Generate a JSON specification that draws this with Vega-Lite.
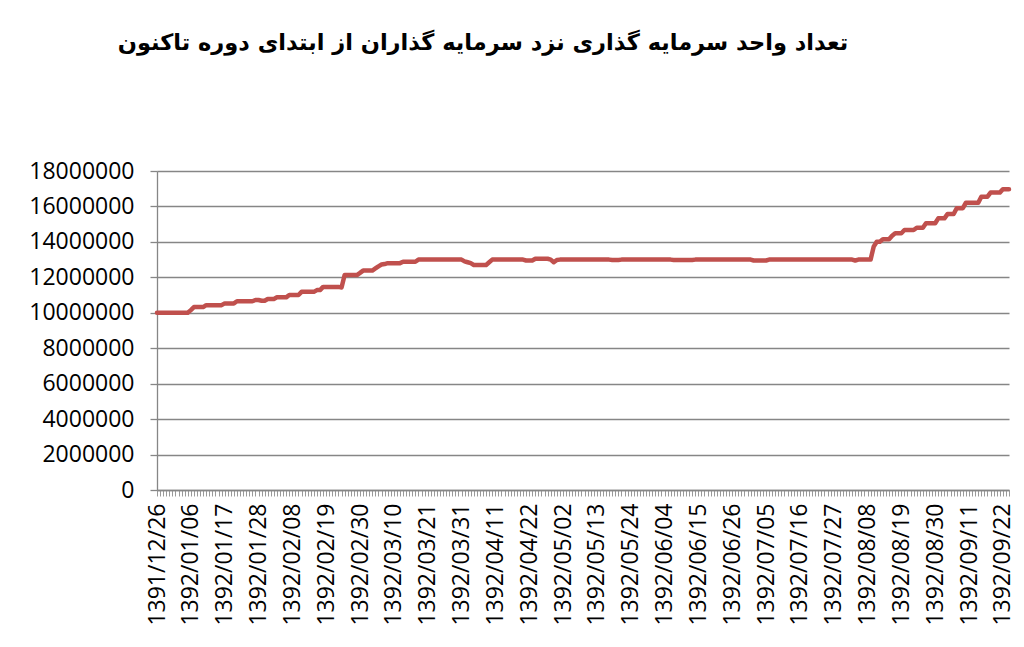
{
  "$schema": "https://vega.github.io/schema/vega-lite/v6.json",
  "autosize": {"type": "none"},
  "width": 852,
  "height": 319,
  "padding": {"left": 157, "top": 171, "right": 15, "bottom": 157},
  "background": "white",
  "config": {"view": {"stroke": null}},
  "title": {
    "text": "تعداد واحد سرمایه گذاری نزد سرمایه گذاران از ابتدای دوره تاکنون",
    "font": "DejaVu Sans",
    "fontWeight": "bold",
    "fontSize": 22.5,
    "color": "black",
    "anchor": "middle",
    "frame": "group",
    "dx": -100,
    "offset": 106
  },
  "data": {"values": [
    {"i":0,"v":10000000},{"i":1,"v":10000000},{"i":2,"v":10000000},{"i":3,"v":10000000},{"i":4,"v":10000000},{"i":5,"v":10000000},{"i":6,"v":10000000},{"i":7,"v":10000000},{"i":8,"v":10000000},{"i":9,"v":10000000},{"i":10,"v":10000000},
    {"i":11,"v":10150000},{"i":12,"v":10320000},{"i":13,"v":10320000},{"i":14,"v":10320000},{"i":15,"v":10320000},
    {"i":16,"v":10430000},{"i":17,"v":10430000},{"i":18,"v":10430000},{"i":19,"v":10430000},{"i":20,"v":10430000},{"i":21,"v":10430000},
    {"i":22,"v":10530000},{"i":23,"v":10530000},{"i":24,"v":10530000},{"i":25,"v":10530000},
    {"i":26,"v":10650000},{"i":27,"v":10650000},{"i":28,"v":10650000},{"i":29,"v":10650000},{"i":30,"v":10650000},{"i":31,"v":10650000},
    {"i":32,"v":10720000},{"i":33,"v":10720000},{"i":34,"v":10680000},{"i":35,"v":10680000},
    {"i":36,"v":10780000},{"i":37,"v":10780000},{"i":38,"v":10780000},
    {"i":39,"v":10870000},{"i":40,"v":10870000},{"i":41,"v":10870000},{"i":42,"v":10870000},
    {"i":43,"v":11000000},{"i":44,"v":11000000},{"i":45,"v":11000000},{"i":46,"v":11000000},
    {"i":47,"v":11180000},{"i":48,"v":11180000},{"i":49,"v":11180000},{"i":50,"v":11180000},{"i":51,"v":11180000},
    {"i":52,"v":11280000},{"i":53,"v":11280000},
    {"i":54,"v":11460000},{"i":55,"v":11460000},{"i":56,"v":11460000},{"i":57,"v":11460000},{"i":58,"v":11460000},{"i":59,"v":11460000},
    {"i":60,"v":11430000},
    {"i":61,"v":12130000},{"i":62,"v":12130000},{"i":63,"v":12130000},{"i":64,"v":12130000},{"i":65,"v":12130000},
    {"i":66,"v":12250000},{"i":67,"v":12380000},{"i":68,"v":12380000},{"i":69,"v":12380000},{"i":70,"v":12380000},
    {"i":71,"v":12500000},{"i":72,"v":12620000},{"i":73,"v":12720000},{"i":74,"v":12750000},
    {"i":75,"v":12800000},{"i":76,"v":12800000},{"i":77,"v":12800000},{"i":78,"v":12800000},{"i":79,"v":12800000},
    {"i":80,"v":12880000},{"i":81,"v":12880000},{"i":82,"v":12880000},{"i":83,"v":12880000},{"i":84,"v":12880000},
    {"i":85,"v":13000000},{"i":86,"v":13000000},{"i":87,"v":13000000},{"i":88,"v":13000000},{"i":89,"v":13000000},{"i":90,"v":13000000},{"i":91,"v":13000000},{"i":92,"v":13000000},{"i":93,"v":13000000},{"i":94,"v":13000000},{"i":95,"v":13000000},{"i":96,"v":13000000},{"i":97,"v":13000000},{"i":98,"v":13000000},{"i":99,"v":13000000},
    {"i":100,"v":12900000},{"i":101,"v":12850000},{"i":102,"v":12800000},
    {"i":103,"v":12700000},{"i":104,"v":12700000},{"i":105,"v":12700000},{"i":106,"v":12700000},{"i":107,"v":12700000},
    {"i":108,"v":12850000},
    {"i":109,"v":13000000},{"i":110,"v":13000000},{"i":111,"v":13000000},{"i":112,"v":13000000},{"i":113,"v":13000000},{"i":114,"v":13000000},{"i":115,"v":13000000},{"i":116,"v":13000000},{"i":117,"v":13000000},{"i":118,"v":13000000},{"i":119,"v":13000000},
    {"i":120,"v":12950000},{"i":121,"v":12950000},{"i":122,"v":12950000},
    {"i":123,"v":13050000},{"i":124,"v":13050000},{"i":125,"v":13050000},{"i":126,"v":13050000},{"i":127,"v":13050000},
    {"i":128,"v":13000000},{"i":129,"v":12850000},{"i":130,"v":12980000},
    {"i":131,"v":13000000},{"i":132,"v":13000000},{"i":133,"v":13000000},{"i":134,"v":13000000},{"i":135,"v":13000000},{"i":136,"v":13000000},{"i":137,"v":13000000},{"i":138,"v":13000000},{"i":139,"v":13000000},{"i":140,"v":13000000},{"i":141,"v":13000000},{"i":142,"v":13000000},{"i":143,"v":13000000},{"i":144,"v":13000000},{"i":145,"v":13000000},{"i":146,"v":13000000},{"i":147,"v":13000000},
    {"i":148,"v":12980000},{"i":149,"v":12980000},{"i":150,"v":12980000},
    {"i":151,"v":13000000},{"i":152,"v":13000000},{"i":153,"v":13000000},{"i":154,"v":13000000},{"i":155,"v":13000000},{"i":156,"v":13000000},{"i":157,"v":13000000},{"i":158,"v":13000000},{"i":159,"v":13000000},{"i":160,"v":13000000},{"i":161,"v":13000000},{"i":162,"v":13000000},{"i":163,"v":13000000},{"i":164,"v":13000000},{"i":165,"v":13000000},{"i":166,"v":13000000},{"i":167,"v":13000000},
    {"i":168,"v":12980000},{"i":169,"v":12980000},{"i":170,"v":12980000},{"i":171,"v":12980000},{"i":172,"v":12980000},{"i":173,"v":12980000},{"i":174,"v":12980000},
    {"i":175,"v":13000000},{"i":176,"v":13000000},{"i":177,"v":13000000},{"i":178,"v":13000000},{"i":179,"v":13000000},{"i":180,"v":13000000},{"i":181,"v":13000000},{"i":182,"v":13000000},{"i":183,"v":13000000},{"i":184,"v":13000000},{"i":185,"v":13000000},{"i":186,"v":13000000},{"i":187,"v":13000000},{"i":188,"v":13000000},{"i":189,"v":13000000},{"i":190,"v":13000000},{"i":191,"v":13000000},{"i":192,"v":13000000},{"i":193,"v":13000000},
    {"i":194,"v":12950000},{"i":195,"v":12950000},{"i":196,"v":12950000},{"i":197,"v":12950000},{"i":198,"v":12950000},
    {"i":199,"v":13000000},{"i":200,"v":13000000},{"i":201,"v":13000000},{"i":202,"v":13000000},{"i":203,"v":13000000},{"i":204,"v":13000000},{"i":205,"v":13000000},{"i":206,"v":13000000},{"i":207,"v":13000000},{"i":208,"v":13000000},{"i":209,"v":13000000},{"i":210,"v":13000000},{"i":211,"v":13000000},{"i":212,"v":13000000},{"i":213,"v":13000000},{"i":214,"v":13000000},{"i":215,"v":13000000},{"i":216,"v":13000000},{"i":217,"v":13000000},{"i":218,"v":13000000},{"i":219,"v":13000000},{"i":220,"v":13000000},{"i":221,"v":13000000},{"i":222,"v":13000000},{"i":223,"v":13000000},{"i":224,"v":13000000},{"i":225,"v":13000000},{"i":226,"v":13000000},
    {"i":227,"v":12950000},
    {"i":228,"v":13000000},{"i":229,"v":13000000},{"i":230,"v":13000000},{"i":231,"v":13000000},{"i":232,"v":13000000},
    {"i":233,"v":13730000},{"i":234,"v":14010000},{"i":235,"v":14010000},
    {"i":236,"v":14150000},{"i":237,"v":14150000},{"i":238,"v":14150000},{"i":239,"v":14350000},
    {"i":240,"v":14490000},{"i":241,"v":14490000},{"i":242,"v":14490000},
    {"i":243,"v":14670000},{"i":244,"v":14670000},{"i":245,"v":14670000},{"i":246,"v":14670000},
    {"i":247,"v":14800000},{"i":248,"v":14800000},{"i":249,"v":14800000},
    {"i":250,"v":15050000},{"i":251,"v":15050000},{"i":252,"v":15050000},{"i":253,"v":15050000},
    {"i":254,"v":15330000},{"i":255,"v":15330000},{"i":256,"v":15330000},
    {"i":257,"v":15570000},{"i":258,"v":15570000},{"i":259,"v":15570000},
    {"i":260,"v":15900000},{"i":261,"v":15900000},{"i":262,"v":15900000},
    {"i":263,"v":16210000},{"i":264,"v":16210000},{"i":265,"v":16210000},{"i":266,"v":16210000},{"i":267,"v":16210000},
    {"i":268,"v":16550000},{"i":269,"v":16550000},{"i":270,"v":16550000},
    {"i":271,"v":16780000},{"i":272,"v":16780000},{"i":273,"v":16780000},{"i":274,"v":16780000},
    {"i":275,"v":16970000},{"i":276,"v":16970000},{"i":277,"v":16970000}
  ]},
  "mark": {"type": "line", "color": "#C0504D", "strokeWidth": 4.5, "strokeCap": "round", "strokeJoin": "round"},
  "encoding": {
    "x": {
      "field": "i",
      "type": "quantitative",
      "scale": {"domain": [0, 277], "nice": false, "zero": false},
      "axis": {
        "title": null,
        "grid": false,
        "tickCount": 278,
        "labelExpr": "datum.value % 11 == 0 ? ['1391/12/26','1392/01/06','1392/01/17','1392/01/28','1392/02/08','1392/02/19','1392/02/30','1392/03/10','1392/03/21','1392/03/31','1392/04/11','1392/04/22','1392/05/02','1392/05/13','1392/05/24','1392/06/04','1392/06/15','1392/06/26','1392/07/05','1392/07/16','1392/07/27','1392/08/08','1392/08/19','1392/08/30','1392/09/11','1392/09/22'][datum.value / 11] : ''",
        "labelAngle": -90,
        "labelAlign": "right",
        "labelBaseline": "middle",
        "labelPadding": 7,
        "labelOverlap": false,
        "labelFlush": false,
        "labelFont": "Open Sans",
        "labelFontSize": 23,
        "labelColor": "black",
        "tickSize": 6,
        "tickColor": "#9a9a9a",
        "tickWidth": 1,
        "domainColor": "#868686",
        "domainWidth": 1.3
      }
    },
    "y": {
      "field": "v",
      "type": "quantitative",
      "scale": {"domain": [0, 18000000], "nice": false},
      "axis": {
        "title": null,
        "values": [0, 2000000, 4000000, 6000000, 8000000, 10000000, 12000000, 14000000, 16000000, 18000000],
        "format": "d",
        "labelFont": "Open Sans",
        "labelFontSize": 23,
        "labelColor": "black",
        "labelPadding": 16,
        "tickSize": 7,
        "tickColor": "#868686",
        "tickWidth": 1.3,
        "domainColor": "#868686",
        "domainWidth": 1.3,
        "gridColor": "#868686",
        "gridWidth": 1.3
      }
    }
  }
}
